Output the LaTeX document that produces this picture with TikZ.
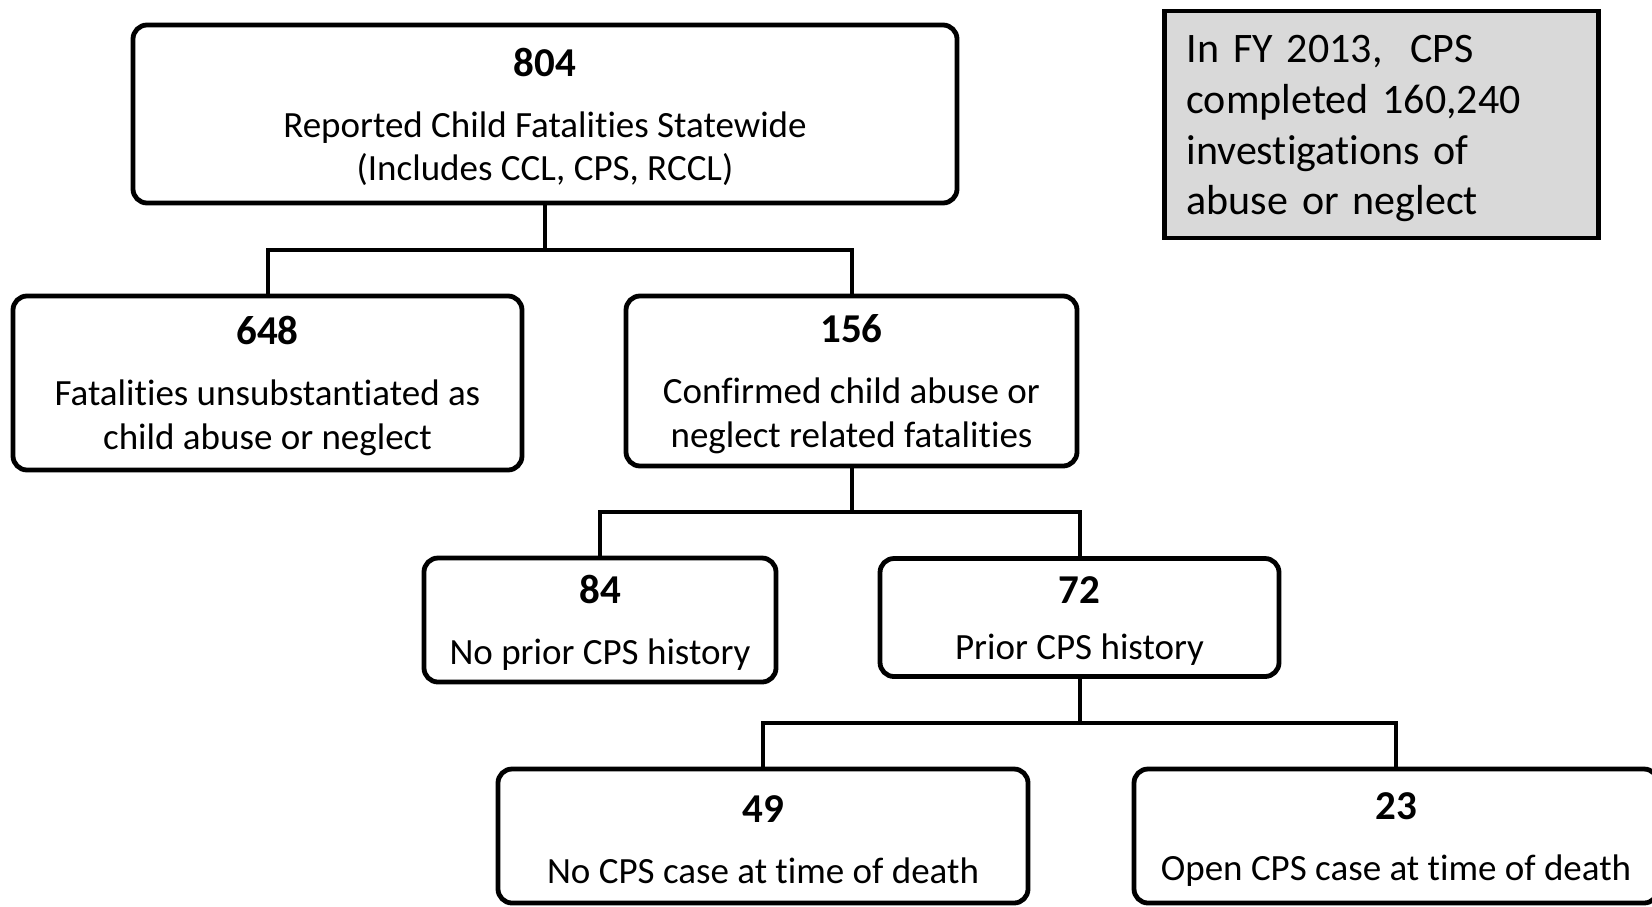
\documentclass[tikz,border=0pt]{standalone}
\usepackage{fontspec}
\setmainfont{Carlito}[Ligatures={NoCommon,NoContextual,NoRare,NoRequired}]
\usepackage{xcolor}
\usepackage{tikz}
\definecolor{notegray}{HTML}{D9D9D9}
\tikzset{
  countbox/.style={
    rectangle,
    rounded corners=7pt,
    draw=black, line width=2.4pt,
    fill=white,
    align=center,
    inner sep=0pt,
    font=\fontsize{18.5}{21.6}\selectfont},
  notebox/.style={
    rectangle,
    draw=black, line width=2.4pt,
    fill=notegray,
    text width=195pt,
    align=left,
    inner xsep=11pt, inner ysep=0pt,
    minimum width=216.5pt, minimum height=113.5pt,
    font=\fontsize{21}{25.3}\selectfont},
  link/.style={draw, line width=2pt},
}

\begin{document}
\begin{tikzpicture}
  [x=0.5pt, y=-0.5pt]
  \clip (0,0) rectangle (1652,906);
  \fill[white] (0,0) rectangle (1652,906);

  % boxes
  \node[countbox, minimum width=412pt, minimum height=89pt] (t804) at (545,114)
    {\rule{0pt}{17pt}{\bfseries\fontsize{20.5}{24}\selectfont 804}\\[9pt]Reported Child Fatalities Statewide\\(Includes CCL, CPS, RCCL)};
  \node[countbox, minimum width=254.5pt, minimum height=87pt] (n648) at (267.5,383)
    {\rule{0pt}{17pt}{\bfseries\fontsize{20.5}{24}\selectfont 648}\\[9pt]Fatalities unsubstantiated as\\child abuse or neglect};
  \node[countbox, minimum width=225.5pt, minimum height=85pt] (n156) at (851.5,381)
    {\rule{0pt}{17pt}{\bfseries\fontsize{20.5}{24}\selectfont 156}\\[9pt]Confirmed child abuse or\\neglect related fatalities};
  \node[countbox, minimum width=176pt, minimum height=62pt] (n84) at (600,620)
    {\rule{0pt}{17pt}{\bfseries\fontsize{20.5}{24}\selectfont 84}\\[9pt]No prior CPS history};
  \node[countbox, minimum width=199.5pt, minimum height=59pt] (n72) at (1079.5,617.5)
    {\rule{0pt}{17pt}{\bfseries\fontsize{20.5}{24}\selectfont 72}\\[6pt]Prior CPS history};
  \node[countbox, minimum width=265pt, minimum height=67pt] (n49) at (763,836)
    {\rule{0pt}{17pt}{\bfseries\fontsize{20.5}{24}\selectfont 49}\\[9pt]No CPS case at time of death};
  \node[countbox, minimum width=262pt, minimum height=67pt] (n23) at (1396,836)
    {\rule{0pt}{17pt}{\bfseries\fontsize{20.5}{24}\selectfont 23}\\[9pt]Open CPS case at time of death};
  \node[notebox] (note) at (1381.5,124.5)
    {\rule{0pt}{18pt}In FY 2013,\ \ CPS\\completed 160,240\\investigations of\\abuse or neglect};

  % connectors
  \coordinate (b1) at (545,250);
  \coordinate (b2) at (851.5,512);
  \coordinate (b3) at (1079.5,723);
  \draw[link] (t804.south) -- (b1);
  \draw[link] (n648.north) |- (b1) -| (n156.north);
  \draw[link] (n156.south) -- (b2);
  \draw[link] (n84.north) |- (b2) -| (n72.north);
  \draw[link] (n72.south) -- (b3);
  \draw[link] (n49.north) |- (b3) -| (n23.north);
\end{tikzpicture}
\end{document}
